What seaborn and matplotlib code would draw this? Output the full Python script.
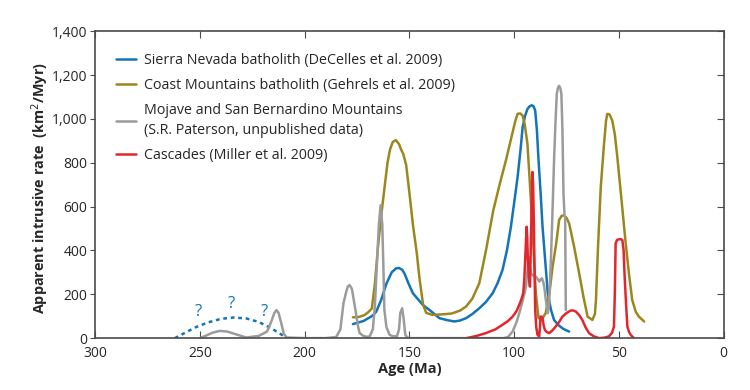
import seaborn as sns
import matplotlib.pyplot as plt
from matplotlib.ticker import FuncFormatter

# ages (Ma) and rates (km2/Myr)
sierra_age = [177, 172, 168, 165.9, 163.5, 161, 158.5, 156.5, 155, 153.5, 152.4, 150.5, 148.4,
              143.7, 140, 135.7, 132, 128.6, 126, 123, 120, 116.7, 113.5, 110.3, 108, 105.6,
              103.5, 101.6, 100, 98.4, 97, 96, 94.8, 93.7, 92.6, 91.6, 90.8, 90, 89.2, 88.4,
              87.4, 86.5, 85.2, 84, 82.5, 81, 79, 77, 75.5, 73.8]
sierra_rate = [64, 78, 100, 120, 175, 249, 300, 318, 320, 312, 295, 250, 205,
               152, 125, 91, 82, 76, 80, 91, 110, 136, 165, 205, 250, 311,
               400, 508, 620, 735, 860, 962, 1015, 1045, 1058, 1062, 1058, 1038, 950, 810,
               660, 508, 350, 205, 130, 83, 60, 45, 37, 30]

sierra_early_age = [262, 257, 252, 246, 240, 234, 228, 222, 217, 212, 208.7]
sierra_early_rate = [0, 25, 50, 72, 88, 94, 90, 74, 50, 22, 0]

coast_age = [177, 174, 171.5, 169.5, 168, 166.5, 165, 163.5, 162, 160.5, 159.3, 158, 156.5,
             155, 154, 153, 151.6, 150, 148.4, 146.5, 145.2, 143.5, 142, 139, 135, 130, 126,
             123, 120, 116.7, 113.5, 110, 107, 104, 101, 99.5, 98.4, 97.2, 96, 95, 93.7,
             92.5, 91.3, 90.5, 89.7, 88.4, 86.5, 85, 83.3, 81.7, 80, 78.6, 77.4, 76.2, 75,
             73.8, 71.5, 69, 67, 65, 62.7, 61.5, 61, 60, 58.7, 57.2, 56.2, 55.6, 54.5, 53.2,
             52, 50.8, 48.8, 46.8, 45.2, 43.7, 42, 40.5, 38]
coast_rate = [95, 97, 105, 120, 135, 250, 420, 560, 680, 800, 860, 895, 903,
              885, 860, 841, 790, 659, 520, 386, 270, 152, 115, 106, 108, 112, 125,
              144, 180, 250, 400, 583, 700, 810, 930, 990, 1023, 1025, 1015, 975, 886,
              700, 507, 350, 205, 91, 91, 114, 200, 326, 430, 538, 558, 560, 548,
              523, 420, 295, 190, 98, 83, 110, 174, 420, 689, 880, 990, 1023, 1020, 992,
              930, 826, 630, 432, 290, 174, 120, 98, 76]

mojave_age = [250, 247, 244, 240.5, 237, 233, 229, 227.8, 222, 218, 216, 214.5, 213.5, 212.5,
              211, 210, 208.7, 200, 190, 185, 183, 181.5, 180.5, 179.5, 178.6, 177.5, 176,
              174.5, 173.8, 172, 170.5, 169, 167.5, 166.5, 165.5, 164.6, 163.8, 163, 162.4,
              162, 161, 159.5, 158, 156, 155, 154.4, 153.5, 152.8, 152, 151, 150, 140, 120,
              105, 103, 100.8, 99, 97.6, 96, 94.4, 93.6, 93.2, 92.6, 92, 91, 89.7, 88.8, 88,
              87.4, 86.8, 86.2, 85.7, 85, 84, 83.4, 82.5, 81.8, 81, 80.3, 79.7, 79.2, 78.6,
              78, 77.5, 77, 76.5, 76, 75.7, 75.4]
mojave_rate = [0, 12, 25, 33, 30, 18, 6, 3, 10, 30, 75, 115, 128, 115,
               60, 20, 3, 0, 0, 5, 40, 160, 200, 235, 242, 225, 140,
               50, 23, 10, 6, 8, 40, 150, 350, 520, 606, 520, 300,
               129, 50, 15, 9, 8, 40, 114, 136, 90, 15, 3, 0, 0, 0,
               0, 5, 30, 70, 114, 170, 235, 320, 371, 330, 295, 285, 280, 270, 258,
               268, 273, 258, 235, 180, 114, 150, 356, 560, 810, 990, 1113, 1140, 1151,
               1140, 1113, 950, 659, 560, 553, 129]

cascades_age = [122.7, 118, 113.5, 109, 105.6, 103, 100.8, 99, 97.6, 96.5, 95.7, 95.2, 94.8,
                94.4, 94.1, 93.8, 93.5, 93, 92.5, 92.2, 91.9, 91.6, 91.3, 91, 90.6, 90.3,
                90, 89.5, 88.9, 88.1, 87.7, 87.5, 87, 86.5, 86, 85.4, 84.5, 83.3, 81.8, 80.2,
                78.5, 77, 75, 73, 71.8, 70.6, 69, 67.5, 66, 64.3, 62, 59.5, 57, 54.8, 53.3,
                52.4, 52, 51.6, 50.9, 50.3, 49.3, 48.4, 47.8, 47.3, 46.6, 46, 45.2, 44.4,
                42.9]
cascades_rate = [0, 10, 23, 40, 61, 78, 98, 122, 152, 180, 205, 270, 356,
                 440, 508, 460, 356, 280, 235, 370, 508, 650, 758, 700, 508, 300,
                 129, 50, 15, 8, 50, 98, 98, 91, 60, 38, 28, 23, 35, 53,
                 75, 98, 115, 126, 126, 121, 105, 83, 50, 23, 8, 0, 2, 8, 25,
                 53, 200, 432, 448, 450, 452, 447, 400, 280, 150, 53, 28, 15,
                 0]

labels = ["Sierra Nevada batholith (DeCelles et al. 2009)",
          "Coast Mountains batholith (Gehrels et al. 2009)",
          "Mojave and San Bernardino Mountains\n(S.R. Paterson, unpublished data)",
          "Cascades (Miller et al. 2009)"]
colors = ["#1374b8", "#9c871f", "#9b9b9b", "#e2262e"]

sns.set_style("white")
plt.rcParams['font.family'] = ['Open Sans', 'DejaVu Sans']

fig, ax = plt.subplots(figsize=(7.5, 3.9), dpi=100)
fig.subplots_adjust(left=0.127, right=0.965, bottom=0.133, top=0.92)

lw = 1.8
sns.lineplot(x=sierra_early_age, y=sierra_early_rate, ax=ax, sort=False, color=colors[0],
             lw=lw, linestyle=(0, (1.5, 1.5)))
series = [(sierra_age, sierra_rate), (coast_age, coast_rate),
          (mojave_age, mojave_rate), (cascades_age, cascades_rate)]
for (xs, ys), c, lab in zip(series, colors, labels):
    sns.lineplot(x=xs, y=ys, ax=ax, sort=False, color=c, lw=lw, label=lab)

for xq, yq in [(251, 120), (235, 154), (219.5, 120)]:
    ax.text(xq, yq, "?", color=colors[0], fontsize=12, ha='center', va='center')

ax.set_xlim(300, 0)
ax.set_ylim(0, 1400)
ax.set_xticks(range(300, -1, -50))
ax.set_yticks(range(0, 1401, 200))
ax.yaxis.set_major_formatter(FuncFormatter(lambda v, p: f"{int(v):,}"))

frame = "#4a4a4a"
for s in ax.spines.values():
    s.set_color(frame)
    s.set_linewidth(1.2)
ax.tick_params(axis='x', direction='in', top=True, bottom=True, length=5, color=frame,
               labelsize=10, pad=6)
ax.tick_params(axis='y', direction='out', left=True, length=3.5, color=frame, labelsize=10,
               pad=2)
right = ax.secondary_yaxis('right')
right.set_yticks(range(0, 1401, 200))
right.tick_params(direction='in', length=5, color=frame, labelright=False)
right.spines['right'].set_visible(False)

ax.set_xlabel("Age (Ma)", fontsize=10.5, fontweight='bold')
ax.set_ylabel("Apparent intrusive rate  (km$^2$/Myr)", fontsize=10.4, fontweight='bold')
ax.xaxis.set_label_coords(0.5, -0.078)
ax.yaxis.set_label_coords(-0.07, 0.49)

leg = ax.legend(loc='upper left', frameon=False, fontsize=10.3, handlelength=1.4,
                handletextpad=0.55, labelspacing=0.72, borderpad=0, borderaxespad=0,
                bbox_to_anchor=(0.033, 0.93))
for t in leg.get_texts():
    t.set_linespacing(1.4)

fig.savefig("out.png", dpi=100)
